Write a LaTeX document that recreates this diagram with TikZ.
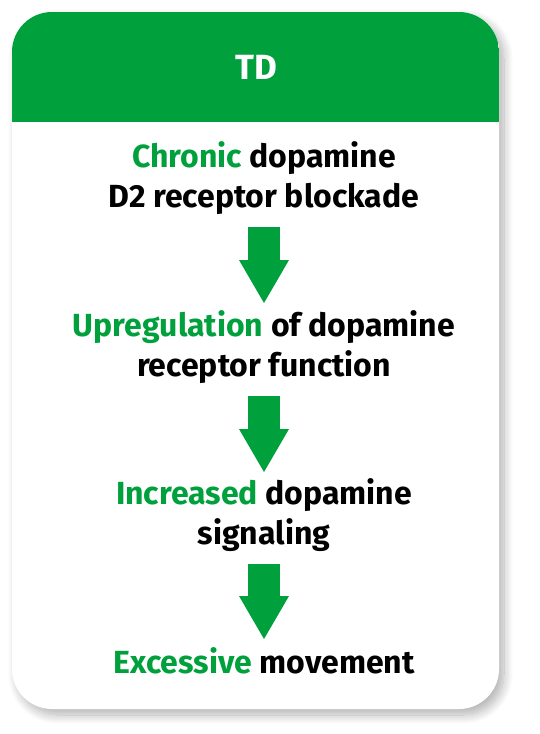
\documentclass[tikz,border=0pt]{standalone}
\usepackage{fontspec}
\setmainfont{Fira Sans}
\usetikzlibrary{arrows.meta,shadows.blur}

\definecolor{tdGreen}{RGB}{0,160,60}

\begin{document}
\begin{tikzpicture}[x=1pt, y=-1pt,
    every node/.style={inner sep=0pt},
    stepText/.style={align=center, font=\fontsize{32}{40}\selectfont\bfseries, text=black},
    flowArrow/.style={tdGreen, line width=32pt,
      -{Triangle[width=50pt, length=43pt, line width=0pt]}}]
    % page, 540 x 734
    \useasboundingbox (0,0) rectangle (540,734);

    % card with soft shadow
    \fill[white, rounded corners=40pt,
      blur shadow={shadow xshift=5pt, shadow yshift=-6pt, shadow blur radius=9pt,
        shadow blur steps=12, shadow opacity=30}]
      (12,12) rectangle (499,709);

    % green header, clipped to the card corners
    \begin{scope}
      \clip[rounded corners=40pt] (12,12) rectangle (499,709);
      \fill[tdGreen] (12,12) rectangle (499,122);
    \end{scope}
    \node[text=white, font=\fontsize{35}{40}\selectfont\bfseries] (title) at (256,67) {TD};

    % steps (base anchor = baseline of the last line)
    \node[stepText, anchor=base] (s1) at (264,207)
      {{\color{tdGreen}Chronic} dopamine\\D2 receptor blockade};
    \node[stepText, anchor=base] (s2) at (264,376)
      {{\color{tdGreen}Upregulation} of dopamine\\receptor function};
    \node[stepText, anchor=base] (s3) at (264,544)
      {{\color{tdGreen}Increased} dopamine\\signaling};
    \node[stepText, anchor=base] (s4) at (264,673)
      {{\color{tdGreen}Excessive} movement};

    % block arrows between the steps
    \coordinate (a1) at (264,227);
    \coordinate (b1) at (264,303);
    \coordinate (a2) at (264,396);
    \coordinate (b2) at (264,472);
    \coordinate (a3) at (264,564);
    \coordinate (b3) at (264,639);
    \draw[flowArrow] (a1) -- (b1);
    \draw[flowArrow] (a2) -- (b2);
    \draw[flowArrow] (a3) -- (b3);
\end{tikzpicture}
\end{document}
